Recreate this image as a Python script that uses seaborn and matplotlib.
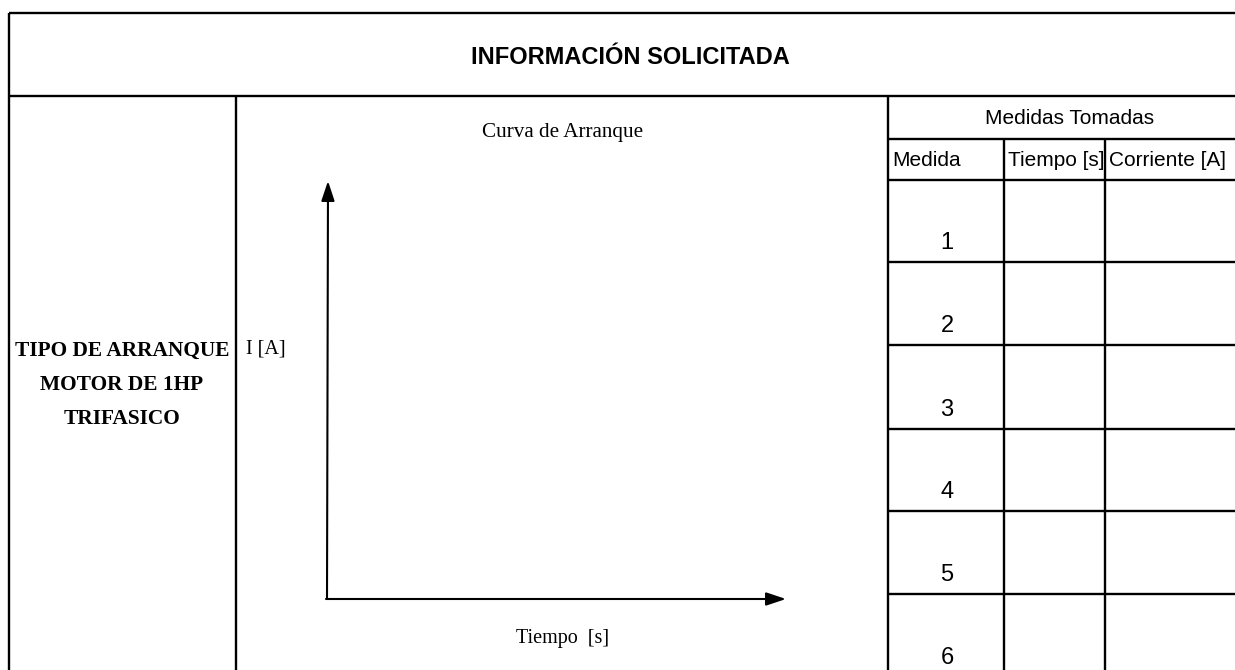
import matplotlib
matplotlib.use("Agg")
import matplotlib.pyplot as plt
from matplotlib import font_manager
import seaborn as sns

sns.set_style("white")
plt.rcParams["text.color"] = "black"

titulo = "INFORMACIÓN SOLICITADA"
bloque_izq = ["TIPO DE ARRANQUE", "MOTOR DE 1HP", "TRIFASICO"]
curva_titulo = "Curva de Arranque"
eje_y = "I [A]"
eje_x = "Tiempo  [s]"
cabecera = "Medidas Tomadas"
columnas = ["Medida", "Tiempo [s]", "Corriente [A]"]
medidas = [1, 2, 3, 4, 5, 6]

W, H = 1235, 670
fig = plt.figure(figsize=(W / 100, H / 100), dpi=100)
ax = fig.add_axes([0, 0, 1, 1])
ax.set_xlim(0, W)
ax.set_ylim(H, 0)
ax.axis("off")

# use a narrow sans if one is installed, otherwise plain Liberation Sans
nombres = {f.name for f in font_manager.fontManager.ttflist}
if "Liberation Sans Narrow" in nombres:
    narrow = ["Liberation Sans Narrow", "DejaVu Sans"]
    tam_titulo = 21
else:
    narrow = ["Liberation Sans", "DejaVu Sans"]
    tam_titulo = 17
serif = ["Liberation Serif", "DejaVu Serif"]
lw = 1.7

# table grid
ax.hlines([13, 96], 9, W, color="black", lw=lw)
ax.vlines(9, 13, H, color="black", lw=lw)
ax.vlines([236, 888], 96, H, color="black", lw=lw)
col_x = [888, 1004, 1105, W]
ax.hlines(139, 888, W, color="black", lw=lw)
ax.vlines(col_x[1:3], 139, H, color="black", lw=lw)
filas_y = [180, 262, 345, 429, 511, 594]
ax.hlines(filas_y, 888, W, color="black", lw=lw)

# title
ax.text(630, 57, titulo, ha="center", va="center", fontsize=tam_titulo,
        fontweight="bold", family=narrow)

# left block
for i, linea in enumerate(bloque_izq):
    ax.text(122, 351 + i * 34, linea, ha="center", va="center", fontsize=15.4,
            fontweight="bold", family=serif)

# chart sketch
ax.text(563, 133, curva_titulo, ha="center", va="center", fontsize=15.2, family=serif)
ax.text(266, 349, eje_y, ha="center", va="center", fontsize=14.5, family=serif)
ax.text(563, 638, eje_x, ha="center", va="center", fontsize=14.5, family=serif)
flecha = dict(arrowstyle="-|>,head_length=1.2,head_width=0.4", color="black",
              lw=1.5, shrinkA=0, shrinkB=0)
ax.annotate("", xy=(328, 181), xytext=(327, 599), arrowprops=flecha)
ax.annotate("", xy=(786, 599), xytext=(326, 599), arrowprops=flecha)

# measurement table text
ax.text((888 + W) / 2 + 8, 118, cabecera, ha="center", va="center", fontsize=15, family=narrow)
for j, nombre in enumerate(columnas):
    t = ax.text(col_x[j] + 4, 160, nombre, ha="left", va="center", fontsize=15, family=narrow)
    clip = plt.Rectangle((col_x[j], 139), col_x[j + 1] - col_x[j], 41, transform=ax.transData)
    t.set_clip_path(clip)
limites = filas_y + [677]
for k, n in enumerate(medidas):
    ax.text(947, limites[k + 1] - 8, str(n), ha="center", va="bottom", fontsize=17, family=narrow)

fig.savefig("out.png", dpi=100)
